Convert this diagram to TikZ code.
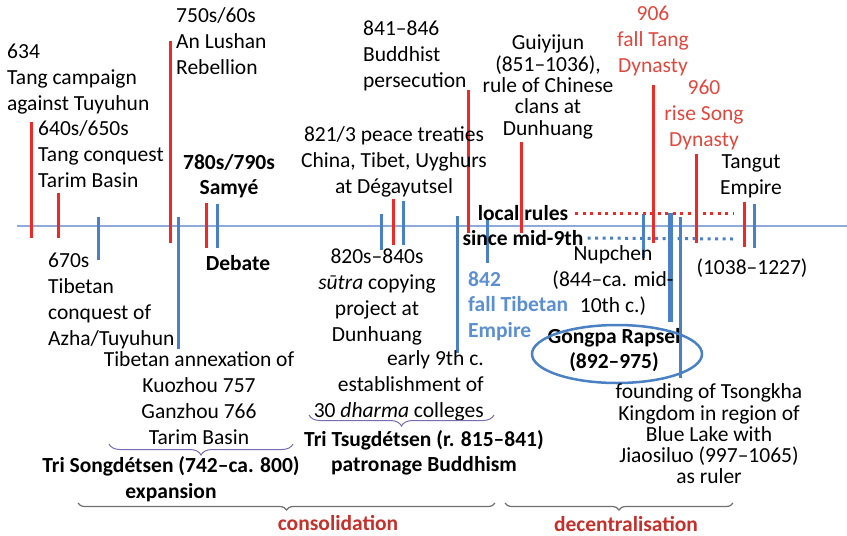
\documentclass[tikz,border=0pt]{standalone}
\usepackage{fontspec}
\setmainfont{Carlito}
\usetikzlibrary{decorations.pathreplacing}
\definecolor{tickred}{HTML}{EE2A26}
\definecolor{tickblue}{HTML}{4A80C4}
\definecolor{axisblue}{HTML}{8EAADB}
\definecolor{textred}{HTML}{E0483E}
\definecolor{darkred}{HTML}{C4302B}
\definecolor{textblue}{HTML}{5B8FD0}
\definecolor{bracepurple}{HTML}{7B6BB0}
\definecolor{bracegray}{HTML}{707070}
\begin{document}
\begin{tikzpicture}[x=1pt,y=-1pt,
  txt/.style={inner sep=0pt,font=\fontsize{21.5}{26}\selectfont},
  tight/.style={inner sep=0pt,font=\fontsize{21.5}{21.3}\selectfont},
  bold/.style={inner sep=0pt,font=\fontsize{21.5}{25.5}\selectfont\bfseries},
  redtxt/.style={txt,text=textred},
  bluetxt/.style={bold,text=textblue},
  phase/.style={bold,text=darkred},
  redtick/.style={tickred,line width=3pt},
  bluetick/.style={tickblue,line width=3pt},
  reddots/.style={tickred,line width=3pt,dash pattern=on 3pt off 4.5pt},
  bluedots/.style={tickblue,line width=3pt,dash pattern=on 3pt off 4.5pt},
  smallbrace/.style={bracepurple,line width=1pt,decorate,decoration={brace,mirror,amplitude=11pt}},
  bigbrace/.style={bracegray,line width=1.2pt,decorate,decoration={brace,mirror,amplitude=7pt}}]
\useasboundingbox (0,0) rectangle (847,536);
% time axis
\coordinate (axisL) at (17,226);
\coordinate (axisR) at (847,226);
\draw[axisblue,line width=1.3pt] (axisL)--(axisR);
% ticks
\draw[redtick] (31,122)--(31,238);
\draw[redtick] (58,193)--(58,238);
\draw[bluetick] (98,217)--(98,260);
\draw[redtick] (170,41)--(170,243);
\draw[bluetick] (178,217)--(178,349);
\draw[redtick] (206,203)--(206,248);
\draw[bluetick] (217,204)--(217,248);
\draw[bluetick] (381,214)--(381,250);
\draw[redtick] (393,199)--(393,245);
\draw[bluetick] (403,201)--(403,245);
\draw[bluetick] (457,216)--(457,353);
\draw[redtick] (468,90)--(468,233);
\draw[bluetick] (487,218)--(487,263);
\draw[redtick] (521,142)--(521,233);
\draw[bluetick] (643,214)--(643,258);
\draw[redtick] (653,85)--(653,243);
\draw[bluetick,line width=5pt] (670,213)--(670,322);
\draw[bluetick] (680,217)--(680,378);
\draw[redtick] (696,154)--(696,243);
\draw[redtick] (744,202)--(744,247);
\draw[bluetick] (754,204)--(754,248);
% labels above
\node[txt,anchor=west,align=left] (n634) at (7,79) {634\\Tang campaign\\against Tuyuhun};
\node[txt,anchor=west,align=left] (n640) at (38,154) {640s/650s\\Tang conquest\\Tarim Basin};
\node[txt,anchor=west,align=left] (n750) at (176,41) {750s/60s\\An Lushan\\Rebellion};
\node[bold,align=center] (nSamye) at (229,176) {780s/790s\\Samyé};
\node[txt,align=center] (nPeace) at (394,162) {821/3 peace treaties\\China, Tibet, Uyghurs\\at Dégayutsel};
\node[txt,anchor=west,align=left] (n841) at (363,56) {841--846\\Buddhist\\persecution};
\node[tight,align=center] (nGuiyi) at (548,87) {Guiyijun\\(851--1036),\\rule of Chinese\\clans at\\Dunhuang};
\node[redtxt,align=center] (n906) at (653,41) {906\\fall Tang\\Dynasty};
\node[redtxt,align=center] (n960) at (704,115) {960\\rise Song\\Dynasty};
\node[txt,align=center] (nTangut) at (751,176) {Tangut\\Empire};
% local rules
\node[bold] (nLocal) at (523,213) {local rules};
\node[bold] (nSince) at (523,238) {since mid-9th};
\coordinate (localEnd) at (733,213);
\coordinate (sinceEnd) at (733,239);
\draw[reddots,shorten <=7pt] (nLocal.east)--(localEnd);
\draw[bluedots,shorten <=4pt] (nSince.east)--(sinceEnd);
% labels below
\node[bold] (nDebate) at (238,263) {Debate};
\node[txt,anchor=west,align=left] (n670) at (48,301) {670s\\Tibetan\\conquest of\\Azha/Tuyuhun};
\node[txt,align=center] (nAnnex) at (199,398) {Tibetan annexation of\\Kuozhou 757\\Ganzhou 766\\Tarim Basin};
\node[bold,align=center] (nTriSong) at (171,479) {Tri Songdétsen (742--ca. 800)\\expansion};
\node[txt,align=center] (n820) at (377,297) {820s--840s\\\textit{sūtra} copying\\project at\\Dunhuang};
\node[txt,anchor=east,align=right] (nEarly) at (484,386) {early 9th c.\\establishment of\\30 \textit{dharma} colleges};
\node[bold,align=center] (nTriTsug) at (424,453) {Tri Tsugdétsen (r. 815--841)\\patronage Buddhism};
\node[bluetxt,anchor=west,align=left] (n842) at (468,306) {842\\fall Tibetan\\Empire};
\node[txt,align=center] (nNupchen) at (613,281) {Nupchen\\(844--ca. mid-\\10th c.)};
\node[txt] (n1038) at (752,268) {(1038--1227)};
\node[bold,align=center] (nGongpa) at (614,350) {Gongpa Rapsel\\(892--975)};
\draw[tickblue,line width=2.5pt] (617,354) ellipse [x radius=85,y radius=29];
\node[tight,align=center] (nFound) at (709,434) {founding of Tsongkha\\Kingdom in region of\\Blue Lake with\\Jiaosiluo (997--1065)\\as ruler};
% braces
\draw[smallbrace] (109,444)--(293,444);
\draw[smallbrace] (309,415)--(494,415);
\draw[bigbrace] (78,503)--(495,503);
\draw[bigbrace] (505,503)--(733,503);
\node[phase] (nCons) at (338,523) {consolidation};
\node[phase] (nDecen) at (626,524) {decentralisation};
\end{tikzpicture}
\end{document}
